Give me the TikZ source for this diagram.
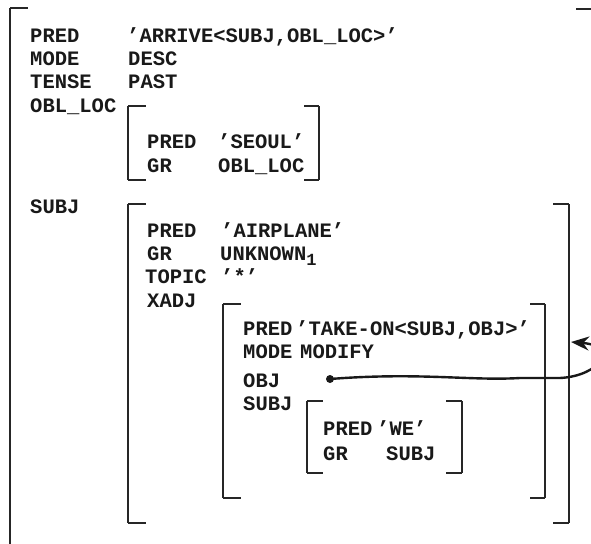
\documentclass[tikz,border=0pt]{standalone}
\usepackage{fontspec}
\newfontfamily\lfgfont{Liberation Mono}
\usetikzlibrary{arrows.meta}
\begin{document}
\begin{tikzpicture}[x=1pt,y=-1pt,
  txt/.style={anchor=base west, inner sep=0pt, font=\lfgfont\bfseries\fontsize{20.5}{20.5}\selectfont, text=black!90},
  brk/.style={line width=1.2pt, draw=black!85},
  tick/.style={line width=2.2pt, draw=black!85},
  link/.style={line width=2.4pt, draw=black!90}]
\useasboundingbox[fill=white] (0,0) rectangle (591,543);

% ---------- brackets ----------
% outer
\draw[brk] (10,8) -- (10,560);
\draw[tick] (10,8) -- (28,8);
\draw[tick] (576,9) -- (600,9);
% OBL_LOC
\draw[brk] (128,106) -- (128,180);
\draw[tick] (128,106) -- (146,106);
\draw[tick] (128,180) -- (146,180);
\draw[brk] (319,106) -- (319,180);
\draw[tick] (304,106) -- (319,106);
\draw[tick] (304,180) -- (319,180);
% SUBJ
\draw[brk] (128,204) -- (128,523);
\draw[tick] (128,204) -- (146,204);
\draw[tick] (128,523) -- (146,523);
\draw[brk] (569,204) -- (569,523);
\draw[tick] (553,204) -- (569,204);
\draw[tick] (553,523) -- (569,523);
% XADJ
\draw[brk] (223,304) -- (223,498);
\draw[tick] (223,304) -- (241,304);
\draw[tick] (223,498) -- (241,498);
\draw[brk] (545,304) -- (545,498);
\draw[tick] (530,304) -- (545,304);
\draw[tick] (530,498) -- (545,498);
% WE
\draw[brk] (307,401) -- (307,473);
\draw[tick] (307,401) -- (323,401);
\draw[tick] (307,473) -- (323,473);
\draw[brk] (462,401) -- (462,473);
\draw[tick] (446,401) -- (462,401);
\draw[tick] (446,473) -- (462,473);

% ---------- outer f-structure ----------
\node[txt] (pred0) at (30,42) {PRED};
\node[txt] (pred0v) at (127,42) {’ARRIVE<SUBJ,OBL\_LOC>’};
\node[txt] (mode0) at (30,65) {MODE};
\node[txt] (mode0v) at (128,65) {DESC};
\node[txt] (tense0) at (30,88) {TENSE};
\node[txt] (tense0v) at (128,88) {PAST};
\node[txt] (obl0) at (30,112) {OBL\_LOC};
\node[txt] (subj0) at (30,213) {SUBJ};

% OBL_LOC
\node[txt] (pred1) at (147,148) {PRED};
\node[txt] (pred1v) at (218,148) {’SEOUL’};
\node[txt] (gr1) at (147,172) {GR};
\node[txt] (gr1v) at (218,172) {OBL\_LOC};

% SUBJ
\node[txt] (pred2) at (147,237) {PRED};
\node[txt] (pred2v) at (221,237) {’AIRPLANE’};
\node[txt] (gr2) at (147,260) {GR};
\node[txt] (gr2v) at (220,260) {UNKNOWN\raisebox{-5pt}{\fontsize{17}{17}\selectfont 1}};
\node[txt] (topic2) at (145,283) {TOPIC};
\node[txt] (topic2v) at (221,283) {’*’};
\node[txt] (xadj2) at (147,307) {XADJ};

% XADJ
\node[txt] (pred3) at (243,335) {PRED};
\node[txt] (pred3v) at (296,335) {’TAKE-ON<SUBJ,OBJ>’};
\node[txt] (mode3) at (243,358) {MODE};
\node[txt] (mode3v) at (300,358) {MODIFY};
\node[txt] (obj3) at (243,387) {OBJ};
\node[txt] (subj3) at (243,410) {SUBJ};

% WE
\node[txt] (pred4) at (323,435) {PRED};
\node[txt] (pred4v) at (377,435) {’WE’};
\node[txt] (gr4) at (323,460) {GR};
\node[txt] (gr4v) at (386,460) {SUBJ};

% ---------- connector ----------
\node[circle, fill=black!90, inner sep=0pt, minimum size=8pt] (objdot) at (330,379) {};
\coordinate (subjarr) at (571,342);
\draw[link, -{Stealth[length=18pt,width=14pt]}] (objdot.center)
  .. controls (420,372) and (470,381) .. (520,378)
  -- (560,378)
  .. controls (600,376) and (620,346) .. (subjarr);
\end{tikzpicture}
\end{document}
